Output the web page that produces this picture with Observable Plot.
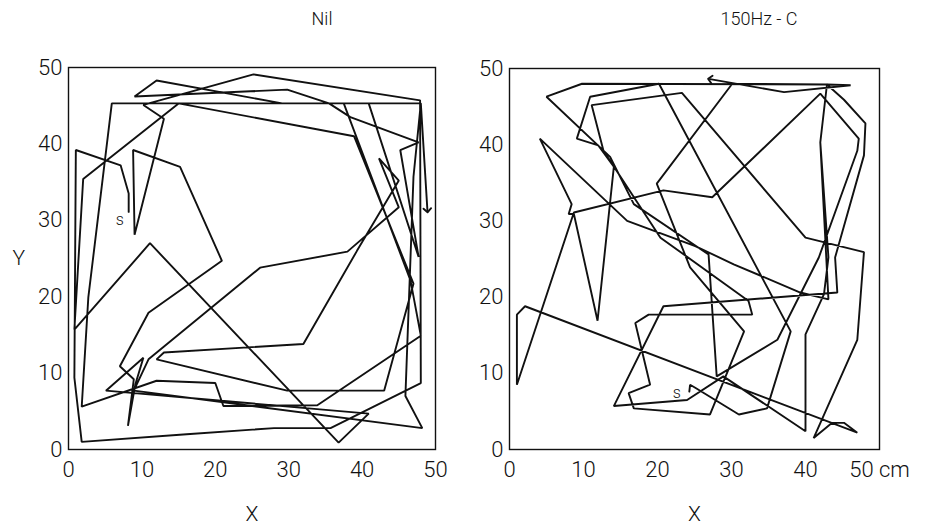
<!DOCTYPE html>
<html>
<head>
<meta charset="utf-8">
<script src="https://cdn.jsdelivr.net/npm/d3@7"></script>
<script src="https://cdn.jsdelivr.net/npm/@observablehq/plot@0.6"></script>
<style>
  html, body { margin: 0; padding: 0; background: #fff; }
  #page { position: relative; width: 944px; height: 528px; overflow: hidden; background: #fff;
          font-family: Roboto, "DejaVu Sans", sans-serif; font-weight: 300; color: #111; }
  .title { position: absolute; top: 8px; font-size: 18px; transform: translateX(-50%);
           white-space: nowrap; z-index: 2; }
  .panel { position: absolute; top: 0; }
  .panel svg { background: transparent !important; }
</style>
</head>
<body>
<div id="page">
  <div class="panel" id="left" style="left:0px"></div>
  <div class="panel" id="right" style="left:441px"></div>
  <div class="title" style="left:322px">Nil</div>
  <div class="title" style="left:759px">150Hz - C</div>
</div>
<script>
// Arena limits and tick labels (cm)
const xTicks = [0, 10, 20, 30, 40, 50];
const yTicks = [0, 10, 20, 30, 40, 50];

// Track of the animal with no stimulus, [x, y] in cm, from start "s" to arrow
const nilPath = [
  [8.2,31.1],[8.2,33.5],[7.1,37.2],[1.0,39.2],[0.8,9.4],[1.8,1.0],[16.1,2.0],[28.0,2.8],
  [35.7,2.8],[48.0,8.7],[47.9,45.7],[25.2,49.1],[10.2,45.1],[13.0,43.3],[9.0,28.1],[8.8,39.2],
  [15.2,37.0],[20.9,24.7],[10.9,17.9],[7.0,10.9],[8.9,9.2],[8.1,3.1],[9.1,8.5],[10.2,12.0],
  [5.1,7.7],[40.9,4.7],[36.8,0.9],[11.1,27.0],[0.8,15.7],[2.0,35.4],[15.0,45.3],[38.9,41.0],
  [47.0,21.7],[43.0,7.7],[29.8,7.7],[12.0,11.8],[13.0,12.7],[32.0,13.8],[39.3,26.0],[45.0,35.2],
  [42.3,38.1],[45.0,31.7],[38.0,25.9],[26.1,23.8],[10.9,11.8],[8.9,7.7],[48.2,2.8],[45.9,7.0],
  [47.0,35.7],[48.0,45.3],[5.9,45.3],[2.7,19.9],[1.8,5.6],[12.0,9.0],[20.0,8.7],[21.1,5.7],
  [33.9,5.8],[48.0,14.9],[46.6,22.1],[37.5,45.3],[29.1,45.3],[12.0,48.3],[9.0,46.2],[29.8,47.1],
  [35.5,45.3],[38.4,43.5],[47.7,40.2],[45.2,39.2],[47.7,25.2],[40.9,45.3],[48.0,45.3],[48.9,31.3]
];

// Track under the 150 Hz stimulus, [x, y] in cm
const hzPath = [
  [24.3,7.6],[24.4,8.5],[25.1,8.1],[31.0,4.6],[34.8,5.4],[38.0,15.5],[20.2,48.0],[10.9,46.3],
  [9.1,40.8],[12.0,39.9],[14.1,37.1],[11.9,16.9],[8.7,30.9],[8.0,30.9],[8.4,32.2],[4.1,40.8],
  [15.9,30.0],[25.1,26.7],[30.3,24.3],[39.3,20.6],[43.1,19.7],[42.0,40.3],[42.9,47.9],[9.8,48.0],
  [5.0,46.3],[13.6,38.4],[16.8,32.2],[26.9,25.6],[28.0,9.6],[36.2,14.4],[41.8,25.2],[47.0,39.2],
  [47.2,40.8],[42.0,46.7],[27.4,33.1],[20.8,34.0],[8.7,31.1],[1.0,8.5],[1.0,17.7],[2.1,18.8],
  [47.0,2.2],[45.2,3.5],[43.6,3.5],[41.1,1.5],[47.0,14.4],[47.9,25.9],[40.0,27.8],[23.3,46.8],
  [11.1,45.2],[12.7,39.2],[20.4,27.8],[32.3,19.5],[32.8,17.7],[18.8,17.7],[17.0,16.6],[19.0,8.5],
  [16.1,7.4],[16.8,5.4],[27.1,4.6],[31.7,15.5],[24.4,23.9],[19.9,34.9],[30.1,48.0],[42.9,47.9],
  [45.2,45.9],[48.1,42.8],[47.9,38.6],[44.0,25.2],[44.3,20.6],[20.8,18.8],[14.1,5.7],[24.0,6.5],
  [28.9,9.6],[40.0,2.4],[40.0,15.1],[42.5,20.4],[43.1,25.2],[42.0,40.3],[42.9,47.9],[46.1,47.8],
  [37.1,46.9],[27.1,48.6]
];

// Start markers
const nilStart = [{x: 7.0, y: 30.0, label: "s"}];
const hzStart = [{x: 22.6, y: 7.4, label: "s"}];

const toRows = (path) => path.map(([x, y]) => ({x, y}));

const fontStyle = {
  fontFamily: "Roboto, 'DejaVu Sans', sans-serif",
  fontWeight: 300,
  fontSize: "22px",
  color: "#111",
  background: "transparent",
  overflow: "visible"
};

function panel({path, start, width, marginLeft, marginRight, marginTop, showY, unit}) {
  const marks = [
    Plot.frame({stroke: "#111", strokeWidth: 1.4}),
    Plot.axisX({
      ticks: xTicks, tickSize: 0, tickPadding: 12, label: null,
      tickFormat: d => (unit && d === 50 ? `${d} ${unit}` : `${d}`)
    }),
    Plot.axisY({ticks: yTicks, tickSize: 0, tickPadding: 6, label: null}),
    Plot.line(toRows(path), {
      x: "x", y: "y", stroke: "#111", strokeWidth: 1.9,
      strokeLinejoin: "miter", markerEnd: "arrow"
    }),
    Plot.text(start, {x: "x", y: "y", text: "label", fontSize: 16, fill: "#111"}),
    Plot.text(["X"], {text: d => d, frameAnchor: "bottom", dy: 71, fontSize: 21, fill: "#111"})
  ];
  if (showY) {
    marks.push(Plot.text(["Y"], {text: d => d, frameAnchor: "left", dx: -56, fontSize: 21, fill: "#111"}));
  }
  return Plot.plot({
    width, height: 528,
    marginLeft, marginRight, marginTop, marginBottom: 79,
    x: {domain: [0, 50]},
    y: {domain: [0, 50]},
    style: fontStyle,
    marks
  });
}

document.getElementById("left").append(panel({
  path: nilPath, start: nilStart, width: 470,
  marginLeft: 68, marginRight: 35, marginTop: 67, showY: true
}));
document.getElementById("right").append(panel({
  path: hzPath, start: hzStart, width: 503,
  marginLeft: 68, marginRight: 65, marginTop: 68, showY: false, unit: "cm"
}));
</script>
</body>
</html>
